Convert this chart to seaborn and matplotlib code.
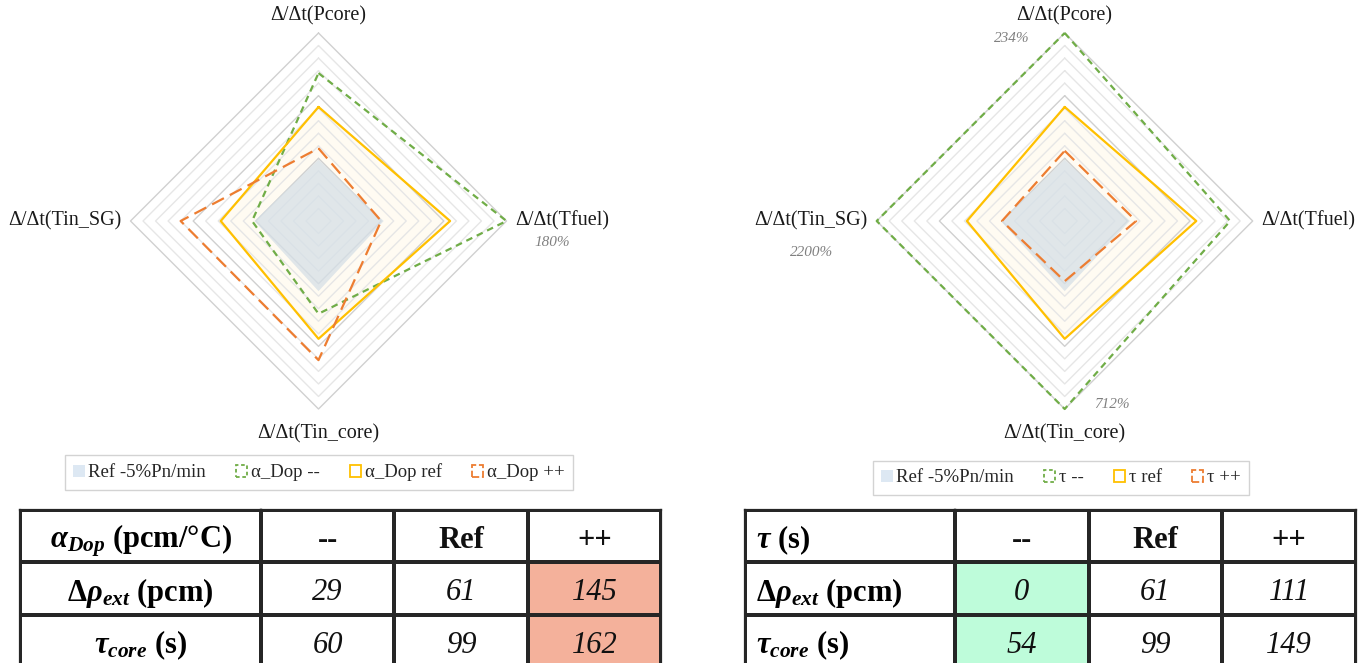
"""
Radars de sensibilité (α_Dop et τ) + tableaux récapitulatifs
"""

import numpy as np
import pandas as pd
import matplotlib
matplotlib.use("Agg")
import matplotlib.pyplot as plt
from matplotlib.patches import Patch
from matplotlib.colors import ListedColormap
import seaborn as sns

sns.set_theme(style="white")
plt.rcParams["font.family"] = ["Liberation Serif", "DejaVu Serif"]
plt.rcParams["mathtext.fontset"] = "custom"
plt.rcParams["mathtext.rm"] = "Liberation Serif"
plt.rcParams["mathtext.it"] = "Liberation Serif:italic"
plt.rcParams["mathtext.bf"] = "Liberation Serif:bold"
plt.rcParams["mathtext.bfit"] = "Liberation Serif:bold:italic"

# ---- données (en % de la référence) ----
axes_labels = ["Δ/Δt(Pcore)", "Δ/Δt(Tfuel)", "Δ/Δt(Tin_core)", "Δ/Δt(Tin_SG)"]
ref_rampe = [49, 52, 56, 51]

dop_moins = [118, 180, 74, 53]
dop_ref = [91, 105, 94, 78]
dop_plus = [58, 50, 111, 110]

tau_moins = [234, 132, 712, 2200]
tau_ref = [91, 105, 94, 78]
tau_plus = [56, 57, 48, 50]

R_MAX = 150  # borne de l'axe radial

# tableaux
col_headers = ["--", "Ref", "++"]
dop_rho = [29, 61, 145]
dop_tcore = [60, 99, 162]
tau_rho = [0, 61, 111]
tau_tcore = [54, 99, 149]

# couleurs
C_REF = "#D6E0E7"
C_MOINS = "#70AD47"
C_NOM = "#FFC000"
C_PLUS = "#ED7D31"
C_SALMON = "#F4B19B"
C_MINT = "#BEFCDA"

W, H = 1368, 663
fig = plt.figure(figsize=(W / 100, H / 100), dpi=100)

angles = np.deg2rad([90, 0, -90, 180])


def to_xy(vals):
    v = np.minimum(np.asarray(vals, dtype=float), R_MAX)
    v = np.append(v, v[0])
    a = np.append(angles, angles[0])
    return pd.DataFrame({"x": v * np.cos(a), "y": v * np.sin(a)})


def radar(cx, cy, series, labels_legend, notes, legend_xy):
    r_px, half_w, half_h = 188, 300, 222
    ax = fig.add_axes([(cx - half_w) / W, 1 - (cy + half_h) / H,
                       2 * half_w / W, 2 * half_h / H])
    lim_x = half_w / r_px * R_MAX
    lim_y = half_h / r_px * R_MAX
    ax.set_xlim(-lim_x, lim_x)
    ax.set_ylim(-lim_y, lim_y)
    ax.axis("off")

    # grille en losanges
    for lvl in range(10, R_MAX + 1, 10):
        g = to_xy([lvl] * 4)
        major = lvl % 50 == 0
        ax.plot(g["x"], g["y"], color="#D0D0D0" if major else "#E6E6E6",
                lw=1.0, zorder=2)

    ref, moins, nom, plus = series
    d = to_xy(nom)
    ax.fill(d["x"], d["y"], color=C_NOM, alpha=0.05, zorder=1, lw=0)
    d = to_xy(ref)
    ax.fill(d["x"], d["y"], color=C_REF, alpha=0.75, zorder=3, lw=0)

    sns.lineplot(data=to_xy(moins), x="x", y="y", sort=False, estimator=None,
                 color=C_MOINS, lw=1.6, linestyle=(0, (3, 2.2)), ax=ax, zorder=4)
    sns.lineplot(data=to_xy(nom), x="x", y="y", sort=False, estimator=None,
                 color=C_NOM, lw=1.6, ax=ax, zorder=4)
    sns.lineplot(data=to_xy(plus), x="x", y="y", sort=False, estimator=None,
                 color=C_PLUS, lw=1.6, linestyle=(0, (6, 3)), ax=ax, zorder=4)

    # libellés des axes
    offs = [((0, 17), "center", "center"), ((9, 0), "left", "center"),
            ((0, -25), "center", "center"), ((-9, 0), "right", "center")]
    for lab, ang, (off, ha, va) in zip(axes_labels, angles, offs):
        ax.annotate(lab, (R_MAX * np.cos(ang), R_MAX * np.sin(ang)),
                    xytext=off, textcoords="offset pixels", ha=ha, va=va,
                    fontsize=14.5, color="#1a1a1a", annotation_clip=False)

    # valeurs hors échelle
    for idx, off in notes:
        ang = angles[idx]
        ax.annotate(f"{moins[idx]}%", (R_MAX * np.cos(ang), R_MAX * np.sin(ang)),
                    xytext=off, textcoords="offset pixels", ha="center",
                    va="center", fontsize=11, style="italic", color="#808080",
                    annotation_clip=False)

    handles = [
        Patch(facecolor="#DDE8F3", edgecolor="none"),
        Patch(facecolor="none", edgecolor=C_MOINS, linestyle=(0, (2, 1.5)), lw=1.3),
        Patch(facecolor="none", edgecolor=C_NOM, lw=1.3),
        Patch(facecolor="none", edgecolor=C_PLUS, linestyle=(0, (4, 1.5)), lw=1.3),
    ]
    fig.legend(handles, labels_legend, loc="center",
               bbox_to_anchor=(legend_xy[0] / W, 1 - legend_xy[1] / H),
               ncol=4, frameon=True, fancybox=False, edgecolor="#C8C8C8",
               fontsize=13.5, handlelength=0.6, handleheight=0.6,
               handletextpad=0.2, columnspacing=1.6, borderpad=0.45)


def table(x_cols, y_rows, header, row_labels, rows, hl_col, hl_color, align):
    x0, x1 = x_cols[0], x_cols[1]
    y0, y1 = y_rows[0], y_rows[-1]
    lw = 1.6
    line_c = "#262626"
    dy = 0.08  # léger décalage vers le bas du texte dans les cellules

    # colonne des libellés
    ax_l = fig.add_axes([x0 / W, 1 - y1 / H, (x1 - x0) / W, (y1 - y0) / H])
    sns.heatmap(np.zeros((3, 1)), cmap=ListedColormap(["white"]), cbar=False,
                linewidths=lw, linecolor=line_c, xticklabels=False,
                yticklabels=False, ax=ax_l)
    for i, lab in enumerate([header] + row_labels):
        if align == "left":
            ax_l.text(0.05, i + 0.5 + dy, lab, ha="left", va="center",
                      fontsize=22, fontweight="bold", color="black")
        else:
            ax_l.text(0.5, i + 0.5 + dy, lab, ha="center", va="center",
                      fontsize=22, fontweight="bold", color="black")

    # valeurs
    codes = np.zeros((3, 3))
    codes[1:, hl_col] = 1
    annot = np.array([col_headers] + [[str(v) for v in r] for r in rows])
    ax_v = fig.add_axes([x1 / W, 1 - y1 / H, (x_cols[-1] - x1) / W, (y1 - y0) / H])
    sns.heatmap(codes, annot=annot, fmt="", cmap=ListedColormap(["white", hl_color]),
                vmin=0, vmax=1, cbar=False, linewidths=lw, linecolor=line_c,
                xticklabels=False, yticklabels=False, ax=ax_v,
                annot_kws={"fontsize": 22, "color": "#111111"})
    for k, t in enumerate(ax_v.texts):
        x, y = t.get_position()
        t.set_position((x, y + dy))
        if k < 3:
            t.set_fontweight("bold")
        else:
            t.set_fontstyle("italic")

    for a in (ax_l, ax_v):
        for s in a.spines.values():
            s.set_visible(True)
            s.set_color(line_c)
            s.set_linewidth(lw)


radar(318.5, 221, [ref_rampe, dop_moins, dop_ref, dop_plus],
      ["Ref -5%Pn/min", "α_Dop --", "α_Dop ref", "α_Dop ++"],
      [(1, (46, -22))], (319, 472.5))
radar(1064.7, 221, [ref_rampe, tau_moins, tau_ref, tau_plus],
      ["Ref -5%Pn/min", "τ --", "τ ref", "τ ++"],
      [(0, (-53, -5)), (3, (-65, -31)), (2, (47, 5))], (1061, 478))

table([20, 261, 395, 528, 661], [510, 565, 615, 667],
      r"$\mathbfit{\alpha}_{\mathbfit{Dop}}$ (pcm/°C)",
      [r"$\mathbf{\Delta}\mathbfit{\rho}_{\mathbfit{ext}}$ (pcm)",
       r"$\mathbfit{\tau}_{\mathbfit{core}}$ (s)"],
      [dop_rho, dop_tcore], 2, C_SALMON, "center")
table([745, 955, 1088, 1222, 1356], [510, 562, 613, 667],
      r"$\mathbfit{\tau}$ (s)",
      [r"$\mathbf{\Delta}\mathbfit{\rho}_{\mathbfit{ext}}$ (pcm)",
       r"$\mathbfit{\tau}_{\mathbfit{core}}$ (s)"],
      [tau_rho, tau_tcore], 0, C_MINT, "left")

fig.savefig("out.png", dpi=100)
plt.close(fig)
